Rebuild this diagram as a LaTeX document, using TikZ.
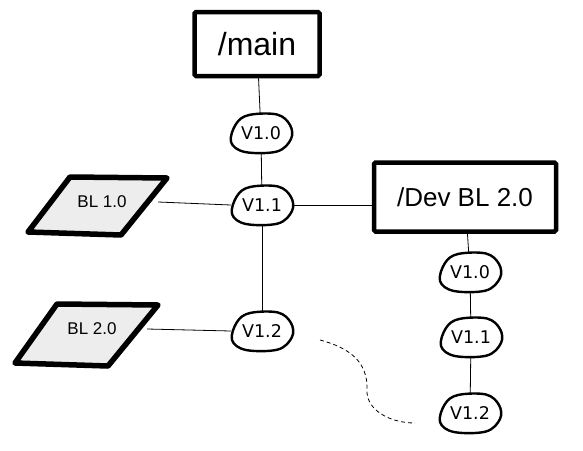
\documentclass[tikz,border=0pt]{standalone}
\usepackage{fontspec}
\setmainfont{Liberation Sans}
\newfontfamily\verfont{DejaVu Sans}
\usetikzlibrary{shapes.geometric}
\tikzset{
  x=1pt, y=-1pt,
  bigbox/.style={draw, line width=4.5pt, rectangle, rounded corners=1.5pt, inner sep=0pt},
  blob/.style={ellipse, minimum width=62pt, minimum height=38pt, inner sep=0pt, font=\verfont\fontsize{17.5}{17.5}\selectfont},
  blobline/.style={draw, line width=2.4pt},
  para/.style={draw, line width=5.5pt, line join=round, fill=black!7},
  bltext/.style={inner sep=0pt, font=\fontsize{17}{17}\selectfont},
  conn/.style={line width=0.8pt},
  dashconn/.style={line width=0.8pt, dashed, dash pattern=on 4pt off 3pt}
}
\newcommand\pebble[1]{\draw[blobline, shift={(#1.center)}] plot[smooth cycle, tension=0.6] coordinates {(-12,-18) (16,-18.5) (29,-8) (30,6) (16,18.5) (-16,19) (-30,9) (-25,-9)};}
\begin{document}
\begin{tikzpicture}
\useasboundingbox (0,0) rectangle (583,450);
% boxes
\node[bigbox, minimum width=125pt, minimum height=64pt, font=\fontsize{32}{32}\selectfont] (main) at (257,44) {/main};
\node[bigbox, minimum width=182pt, minimum height=69pt, font=\fontsize{26}{26}\selectfont] (dev) at (465,197) {/Dev BL 2.0};
% parallelograms
\draw[para] (70,177) -- (167,178) -- (121,235) -- (28,232) -- cycle;
\draw[para] (57,304) -- (158,305) -- (108,366) -- (15,363) -- cycle;
\node[bltext, minimum width=112pt] (bl1) at (102,202) {BL 1.0};
\node[bltext, minimum width=110pt] (bl2) at (92,329) {BL 2.0};
% left column blobs
\node[blob] (a0) at (261,133) {V1.0};
\node[blob] (a1) at (262,205) {V1.1};
\node[blob] (a2) at (262,331) {V1.2};
% right column blobs
\node[blob] (b0) at (470,272) {V1.0};
\node[blob] (b1) at (471,337) {V1.1};
\node[blob] (b2) at (470,413) {V1.2};
\pebble{a0}\pebble{a1}\pebble{a2}\pebble{b0}\pebble{b1}\pebble{b2}
% connectors
\draw[conn] (main) -- (a0);
\draw[conn] (a0) -- (a1);
\draw[conn] (a1) -- (a2);
\draw[conn] (bl1.east) -- (a1.west);
\draw[conn] (bl2.east) -- (a2.west);
\draw[conn] (a1.east) -- (a1.east -| dev.west);
\draw[conn] (dev) -- (b0);
\draw[conn] (b0) -- (b1);
\draw[conn] (b1) -- (b2);
% dashed curve
\coordinate (ds) at (320,340);
\coordinate (de) at (415,423);
\draw[dashconn] (ds) .. controls (350,348) and (368,362) .. (367,390) .. controls (366,410) and (390,423) .. (de);
\end{tikzpicture}
\end{document}
